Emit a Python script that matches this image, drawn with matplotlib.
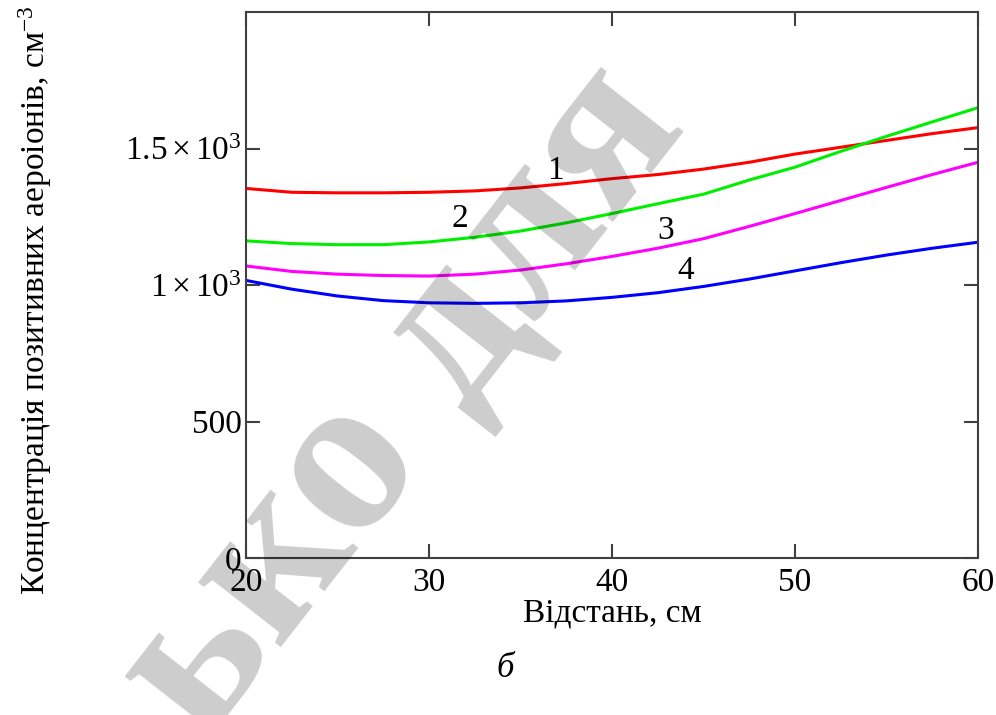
import numpy as np
import matplotlib.pyplot as plt

# distance, cm
distance = [20, 22.5, 25, 27.5, 30, 32.5, 35, 37.5, 40, 42.5, 45, 47.5, 50, 52.5, 55, 57.5, 60]

# positive air-ion concentration, cm^-3
conc_1 = [1354, 1340, 1338, 1338, 1340, 1345, 1356, 1372, 1390, 1405, 1425, 1450, 1480, 1505, 1530, 1555, 1577]
conc_2 = [1162, 1152, 1148, 1148, 1158, 1175, 1198, 1228, 1262, 1298, 1333, 1385, 1432, 1490, 1545, 1598, 1650]
conc_3 = [1070, 1050, 1040, 1035, 1033, 1040, 1055, 1078, 1105, 1135, 1170, 1215, 1262, 1310, 1358, 1405, 1450]
conc_4 = [1017, 985, 960, 943, 935, 933, 935, 942, 955, 972, 995, 1022, 1052, 1082, 1110, 1135, 1157]

series = [conc_1, conc_2, conc_3, conc_4]
curve_labels = ["1", "2", "3", "4"]
colors = ["#ff0000", "#00ee00", "#ff00ff", "#0000ff"]
label_pos = [(36.9, 1420), (31.7, 1244), (42.95, 1200), (44.0, 1054)]

y_ticks = [0, 500, 1000, 1500]
y_tick_labels = ["0", "500", r"$1\times10^3$", r"$1.5\times10^3$"]
x_ticks = [20, 30, 40, 50, 60]

plt.rcParams["font.family"] = ["Liberation Serif", "DejaVu Serif"]
plt.rcParams["mathtext.fontset"] = "custom"
plt.rcParams["mathtext.rm"] = "Liberation Serif"
plt.rcParams["mathtext.it"] = "Liberation Serif:italic"
plt.rcParams["font.size"] = 24

fig = plt.figure(figsize=(9.96, 7.15), dpi=100)
ax = fig.add_axes([0.247, 0.2196, 0.735, 0.7634])

for y, c in zip(series, colors):
    ax.plot(distance, y, color=c, lw=2.2)

for lab, (lx, ly) in zip(curve_labels, label_pos):
    ax.text(lx, ly, lab, ha="center", va="center", fontsize=24)

ax.set_xlim(20, 60)
ax.set_ylim(0, 2000)
ax.set_xticks(x_ticks)
ax.set_yticks(y_ticks)
ax.set_yticklabels(y_tick_labels)
ax.tick_params(direction="in", length=10, width=1.5, color="#404040",
               top=True, right=True, labelsize=24)
ax.tick_params(axis="x", pad=7)
ax.tick_params(axis="y", pad=3)
for sp in ax.spines.values():
    sp.set_color("#404040")
    sp.set_linewidth(1.5)

ax.set_xlabel("Відстань, см", fontsize=24, labelpad=0)
ax.set_ylabel("Концентрація позитивних аероіонів, см$^{-3}$", fontsize=24)
ax.yaxis.set_label_coords(-0.262, 0.472)

fig.text(0.507, 0.065, "б", fontsize=25, style="italic", ha="center", va="center")

# watermark across the figure
fig.text(0.405, 0.438, "ько для", fontsize=164, fontweight="bold", color="black",
         alpha=0.2, rotation=52, ha="center", va="center", rotation_mode="anchor",
         zorder=10)

fig.savefig("out.png", dpi=100)
